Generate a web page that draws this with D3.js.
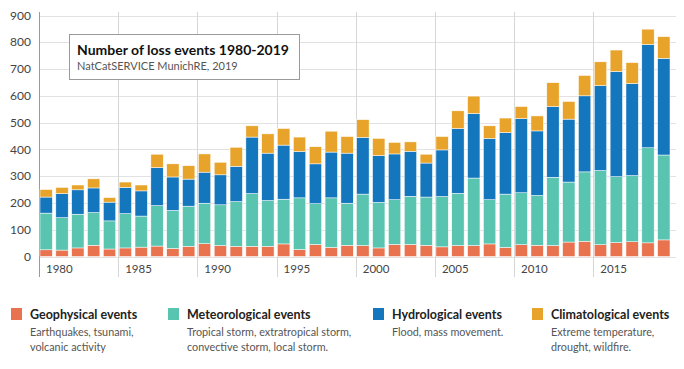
<!DOCTYPE html>
<html>
<head>
<meta charset="utf-8">
<script src="https://cdn.jsdelivr.net/npm/d3@7"></script>
<style>
  html, body { margin: 0; padding: 0; background: #fff; }
  svg { display: block; font-family: Lato, "Open Sans", sans-serif; }
</style>
</head>
<body>
<svg id="chart" width="684" height="369"></svg>
<script>
const years = [1980,1981,1982,1983,1984,1985,1986,1987,1988,1989,
               1990,1991,1992,1993,1994,1995,1996,1997,1998,1999,
               2000,2001,2002,2003,2004,2005,2006,2007,2008,2009,
               2010,2011,2012,2013,2014,2015,2016,2017,2018,2019];
const geophysical    = [25,24,32,42,28,32,35,39,30,38, 48,41,38,38,38,47,26,45,34,42, 41,32,45,45,42,36,41,41,47,34, 44,42,41,54,57,44,52,55,51,62];
const meteorological = [137,121,126,122,105,128,116,151,142,150, 151,152,167,197,171,167,193,152,185,157, 192,170,167,180,180,188,195,252,165,199, 194,186,255,224,259,277,246,247,355,317];
const hydrological   = [60,90,91,92,70,98,94,142,125,101, 116,112,132,211,177,202,173,149,171,187, 212,175,171,168,127,174,242,241,229,230, 277,241,264,235,284,317,393,344,386,361];
const climatological = [28,23,18,34,17,20,22,50,49,50, 68,47,71,42,72,62,54,64,78,62, 66,64,43,35,33,50,66,65,47,54, 45,56,89,66,76,89,80,78,57,81];

const seriesKeys = ["Geophysical events","Meteorological events","Hydrological events","Climatological events"];
const seriesColors = ["#e9734f","#59c5b1","#1476bd","#e8a42a"];
const seriesDescriptions = [
  ["Earthquakes, tsunami,","volcanic activity"],
  ["Tropical storm, extratropical storm,","convective storm, local storm."],
  ["Flood, mass movement."],
  ["Extreme temperature,","drought, wildfire."]
];
const yTicks = [0,100,200,300,400,500,600,700,800,900];
const xTickYears = [1980,1985,1990,1995,2000,2005,2010,2015];
const titleText = "Number of loss events 1980-2019";
const subtitleText = "NatCatSERVICE MunichRE, 2019";

const rows = years.map((y,i) => ({
  year: y,
  [seriesKeys[0]]: geophysical[i],
  [seriesKeys[1]]: meteorological[i],
  [seriesKeys[2]]: hydrological[i],
  [seriesKeys[3]]: climatological[i]
}));

const svg = d3.select("#chart");

const x = d3.scaleBand().domain(years).range([40, 670]).paddingInner(0.22).paddingOuter(0).align(0);
const y = d3.scaleLinear().domain([0, 900]).range([256.5, 15.5]);
const color = d3.scaleOrdinal().domain(seriesKeys).range(seriesColors);

// horizontal grid
svg.append("g").selectAll("line").data(yTicks).join("line")
  .attr("x1", 39).attr("x2", 676)
  .attr("y1", d => Math.round(y(d)) + 0.5).attr("y2", d => Math.round(y(d)) + 0.5)
  .attr("stroke", "#e2e2e2").attr("stroke-width", 1);

// vertical grid at 5-year marks
svg.append("g").selectAll("line").data(xTickYears).join("line")
  .attr("x1", d => Math.round(x(d)) - 0.5).attr("x2", d => Math.round(x(d)) - 0.5)
  .attr("y1", 12).attr("y2", 277)
  .attr("stroke", (d,i) => i === 0 ? "#9a9a9a" : "#d6d6d6").attr("stroke-width", 1);

// y tick labels
svg.append("g").selectAll("text").data(yTicks).join("text")
  .attr("x", 31).attr("y", d => y(d)).attr("dy", "0.35em")
  .attr("text-anchor", "end").attr("font-size", 12).attr("fill", "#444")
  .text(d => d);

// x tick labels
svg.append("g").selectAll("text").data(xTickYears).join("text")
  .attr("x", d => x(d) + 6).attr("y", 273)
  .attr("font-size", 11.5).attr("fill", "#444")
  .text(d => d);

// stacked bars
const stacked = d3.stack().keys(seriesKeys)(rows);
svg.append("g").selectAll("g").data(stacked).join("g")
  .attr("fill", d => color(d.key))
  .selectAll("rect").data(d => d).join("rect")
  .attr("x", d => x(d.data.year))
  .attr("width", x.bandwidth())
  .attr("y", d => y(d[1]))
  .attr("height", d => y(d[0]) - y(d[1]))
  .attr("stroke", "#fff").attr("stroke-width", 0.5);

// title box
const tb = svg.append("g");
tb.append("rect").attr("x", 69.5).attr("y", 34.5).attr("width", 230).attr("height", 45)
  .attr("fill", "#fff").attr("stroke", "#9a9a9a");
tb.append("text").attr("x", 77).attr("y", 55).attr("font-size", 14).attr("font-weight", "bold")
  .attr("fill", "#111").text(titleText);
tb.append("text").attr("x", 77).attr("y", 70).attr("font-size", 11)
  .attr("fill", "#555").text(subtitleText);

// legend
const legendX = [11, 168, 373, 532];
const lg = svg.append("g").selectAll("g").data(seriesKeys).join("g")
  .attr("transform", (d,i) => `translate(${legendX[i]},0)`);
lg.append("rect").attr("x", 0).attr("y", 308).attr("width", 11).attr("height", 12)
  .attr("fill", d => color(d));
lg.append("text").attr("x", 19).attr("y", 319).attr("font-size", 12.5).attr("font-weight", "bold")
  .attr("fill", "#222").text(d => d);
lg.each(function(d,i) {
  d3.select(this).selectAll("text.desc").data(seriesDescriptions[i]).join("text")
    .attr("class", "desc")
    .attr("x", 19).attr("y", (t,j) => 335.5 + j * 15.5)
    .attr("font-size", 10.8).attr("fill", "#555").text(t => t);
});
</script>
</body>
</html>
